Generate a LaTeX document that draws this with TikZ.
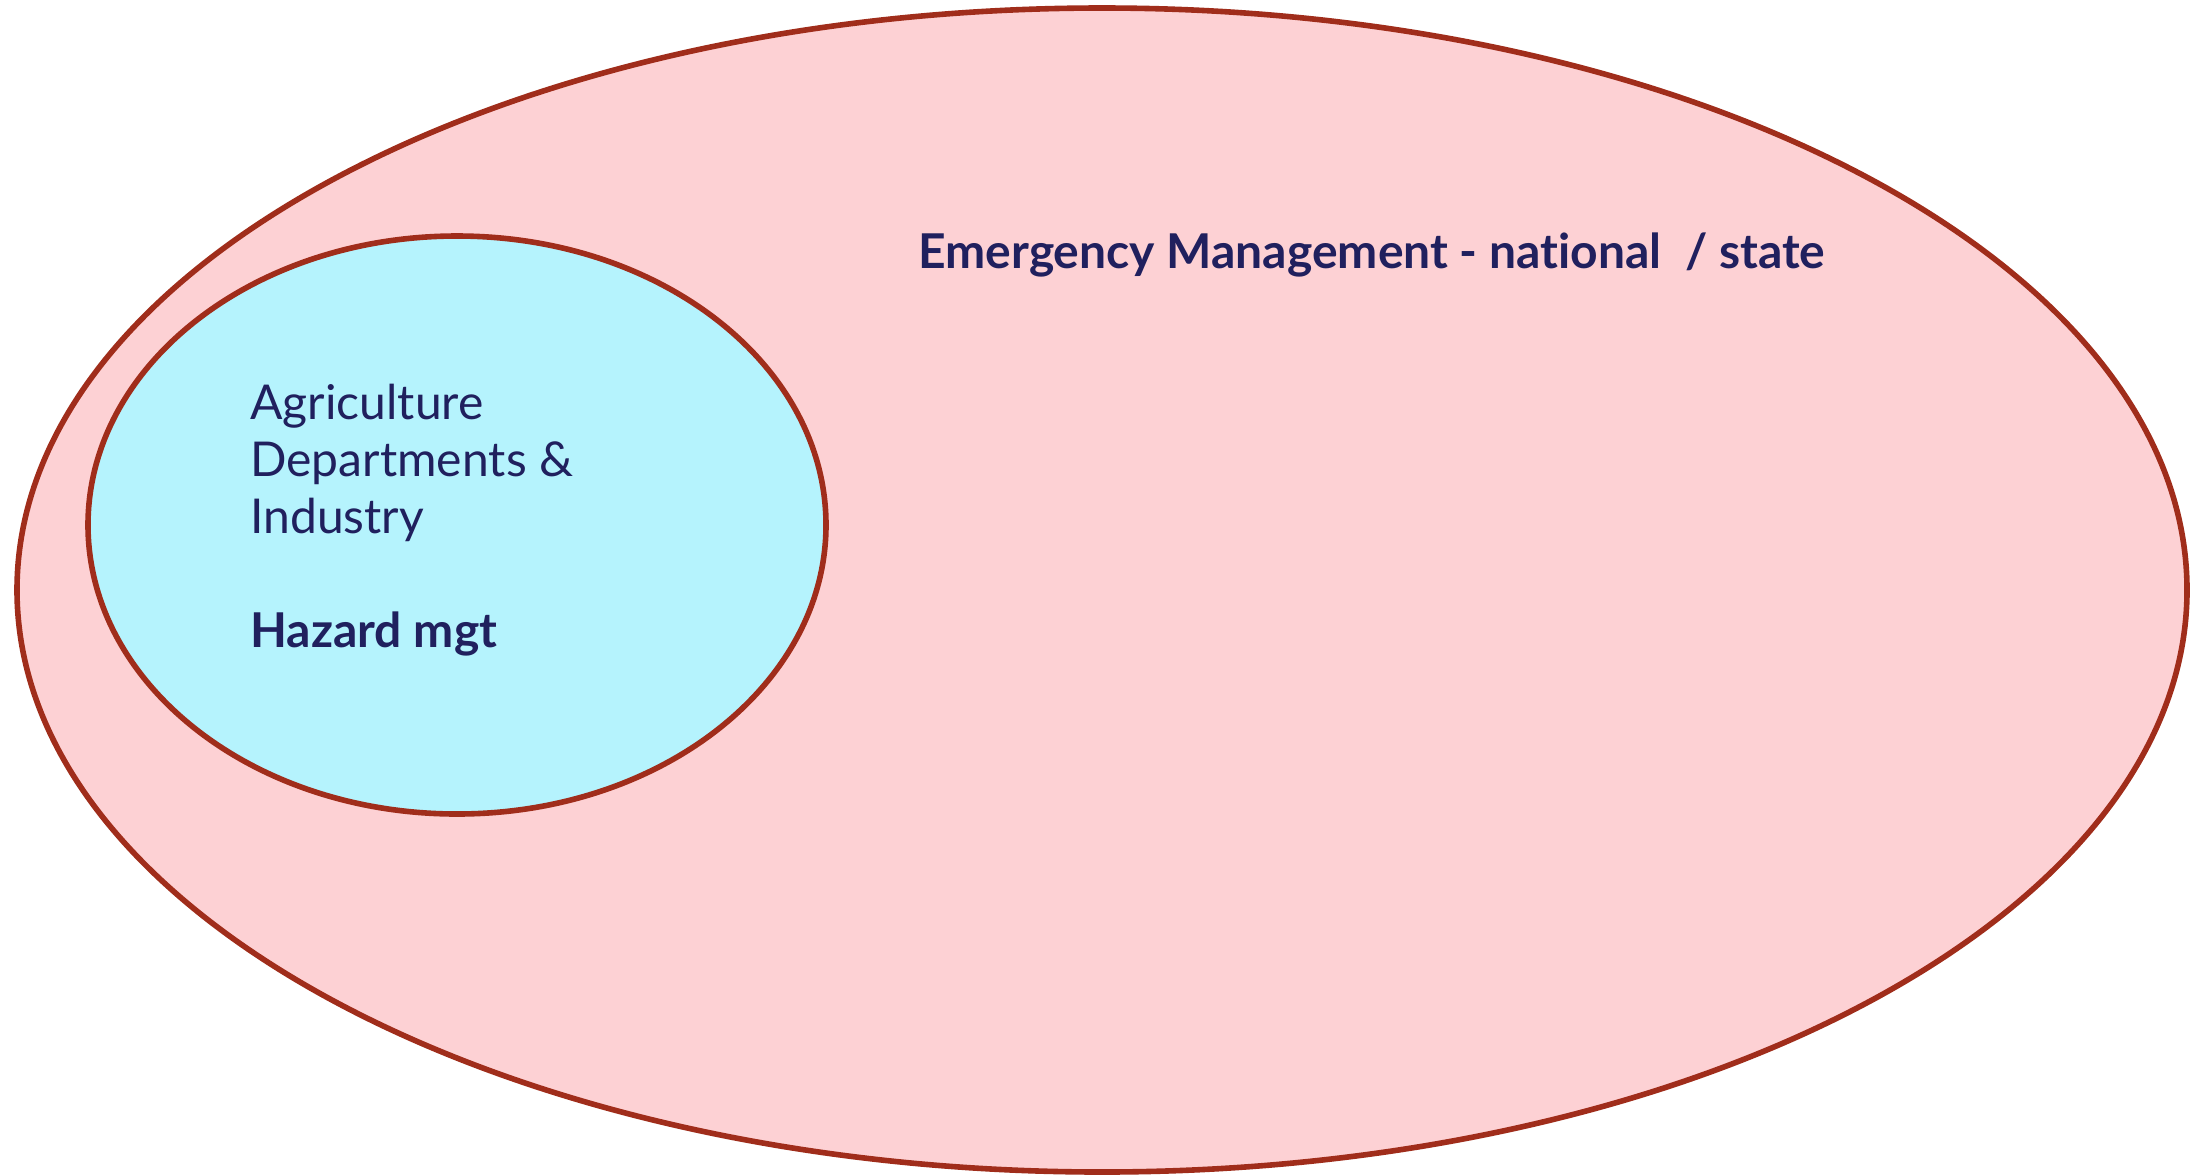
\documentclass[tikz,border=0pt]{standalone}
\usepackage{fontspec}
\setmainfont{Lato}[Ligatures={NoCommon}]
\usetikzlibrary{shapes.geometric}
\definecolor{pinkfill}{HTML}{FDD1D4}
\definecolor{cyanfill}{HTML}{B5F3FD}
\definecolor{rimred}{HTML}{A02D1B}
\definecolor{navytext}{HTML}{20205E}
\tikzset{
  px/.style={x=0.5pt,y=-0.5pt},
  blob/.style={ellipse, draw=rimred, line width=2.8pt, inner sep=0pt},
  lbl/.style={text=navytext, inner sep=0pt, font=\fontsize{24}{28.5}\selectfont},
}
\begin{document}
\begin{tikzpicture}[px]
\useasboundingbox (0,0) rectangle (2203,1174);
\node[blob, fill=pinkfill, minimum width=1085pt, minimum height=582pt] (em) at (1102,590) {};
\node[blob, fill=cyanfill, minimum width=369pt, minimum height=289pt] (ag) at (457,525) {};
\node[lbl, anchor=base west, font=\fontsize{24}{28.5}\selectfont\bfseries] (emt) at (918,268) {Emergency Management - national\ \ / state};
\node[lbl, anchor=base west, align=left] (agt) at (250,533) {Agriculture\\Departments \&\\Industry};
\node[lbl, anchor=base west, font=\fontsize{24}{28.5}\selectfont\bfseries] (hz) at (250,647) {Hazard mgt};
\end{tikzpicture}
\end{document}
